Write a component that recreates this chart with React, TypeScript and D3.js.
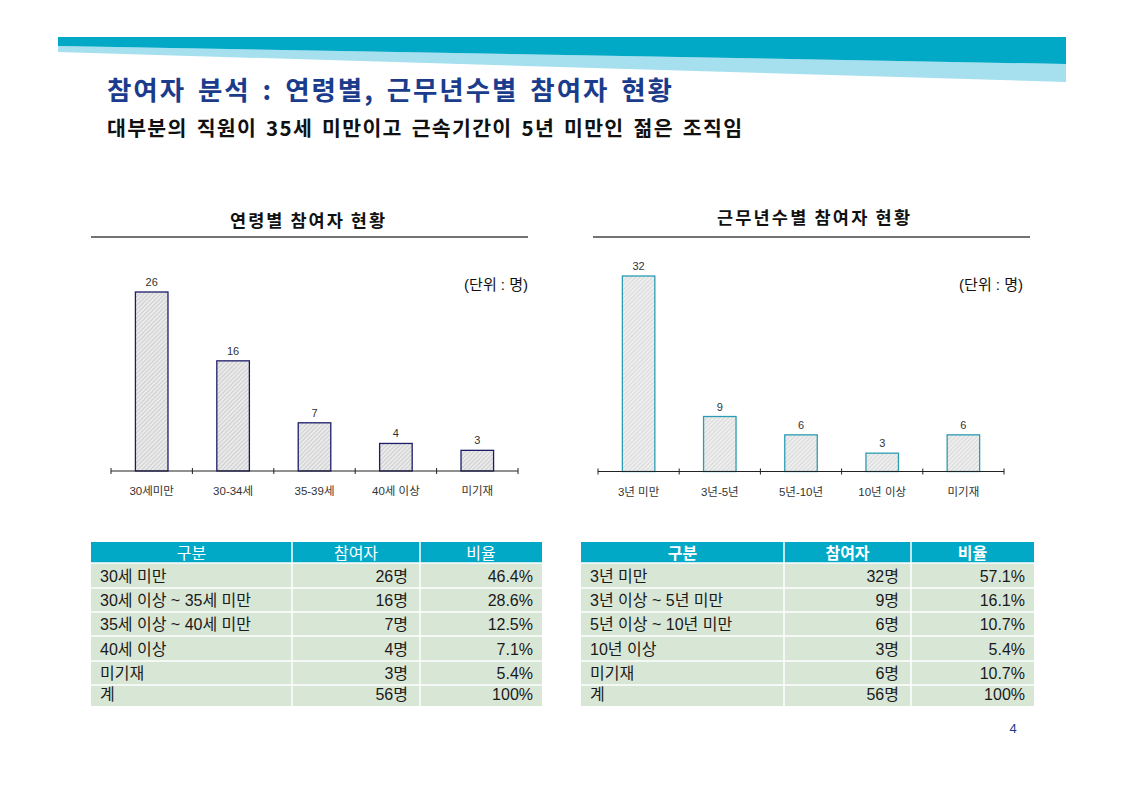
import React from "react";
import * as d3 from "d3";

const ageCategories = ["30세미만", "30-34세", "35-39세", "40세 이상", "미기재"];
const ageValues = [26, 16, 7, 4, 3];
const tenureCategories = ["3년 미만", "3년-5년", "5년-10년", "10년 이상", "미기재"];
const tenureValues = [32, 9, 6, 3, 6];

const tableHeaders = ["구분", "참여자", "비율"];
const ageTableLabels = ["30세 미만", "30세 이상 ~ 35세 미만", "35세 이상 ~ 40세 미만", "40세 이상", "미기재", "계"];
const ageTableCounts = ["26명", "16명", "7명", "4명", "3명", "56명"];
const ageTablePcts = ["46.4%", "28.6%", "12.5%", "7.1%", "5.4%", "100%"];
const tenureTableLabels = ["3년 미만", "3년 이상 ~ 5년 미만", "5년 이상 ~ 10년 미만", "10년 이상", "미기재", "계"];
const tenureTableCounts = ["32명", "9명", "6명", "3명", "6명", "56명"];
const tenureTablePcts = ["57.1%", "16.1%", "10.7%", "5.4%", "10.7%", "100%"];

const FONT = "'Noto Sans CJK KR', 'Noto Sans', sans-serif";
const MIXED = "'Liberation Sans', 'Noto Sans CJK KR', sans-serif";
const TEAL = "#02A9C7";
const LIGHT_TEAL = "#A6E0EE";

type ChartProps = {
  cats: string[];
  vals: number[];
  x0: number;
  x1: number;
  axisY: number;
  topY: number;
  stroke: string;
  pattern: string;
  unitX: number;
  unitY: number;
};

function BarChart({ cats, vals, x0, x1, axisY, topY, stroke, pattern, unitX, unitY }: ChartProps) {
  const x = d3.scaleBand<string>().domain(cats).range([x0, x1]).paddingInner(0.6).paddingOuter(0.3);
  const y = d3.scaleLinear().domain([0, d3.max(vals) as number]).range([axisY, topY]);
  const step = x.step();
  const tickXs = d3.range(cats.length + 1).map((i) => x0 + i * step);
  return (
    <g>
      {cats.map((c, i) => (
        <g key={c}>
          <rect
            x={x(c)}
            y={y(vals[i])}
            width={x.bandwidth()}
            height={axisY - y(vals[i])}
            fill={`url(#${pattern})`}
            stroke={stroke}
            strokeWidth={1.3}
          />
          <text
            x={(x(c) as number) + x.bandwidth() / 2}
            y={y(vals[i]) - 6}
            textAnchor="middle"
            fontSize={11}
            fill="#333"
            fontFamily={MIXED}
          >
            {vals[i]}
          </text>
          <text
            x={(x(c) as number) + x.bandwidth() / 2}
            y={axisY + 24}
            textAnchor="middle"
            fontSize={11.5}
            fill="#333"
            fontFamily={MIXED}
          >
            {c}
          </text>
        </g>
      ))}
      <line x1={x0} x2={x1} y1={axisY} y2={axisY} stroke="#222" strokeWidth={1.2} />
      {tickXs.map((tx, i) => (
        <line key={i} x1={tx} x2={tx} y1={axisY - 3} y2={axisY + 3} stroke="#222" strokeWidth={1} />
      ))}
      <text x={unitX} y={unitY} textAnchor="end" fontSize={15} fill="#111" fontFamily={MIXED}>
        (단위 : 명)
      </text>
    </g>
  );
}

type TableProps = {
  cols: number[];
  labels: string[];
  counts: string[];
  pcts: string[];
  boldHeader: boolean;
};

const headerTop = 542;
const headerBottom = 563;
const rowBounds = [563, 588, 612, 636, 661, 685, 706];

function DataTable({ cols, labels, counts, pcts, boldHeader }: TableProps) {
  const [c0, c1, c2, c3] = cols;
  return (
    <g fontFamily={MIXED}>
      <rect x={c0} y={headerTop} width={c3 - c0} height={headerBottom - headerTop} fill={TEAL} />
      {labels.map((l, i) => (
        <rect
          key={l}
          x={c0}
          y={rowBounds[i]}
          width={c3 - c0}
          height={rowBounds[i + 1] - rowBounds[i]}
          fill="#D8E6D6"
        />
      ))}
      {rowBounds.slice(0, -1).map((ry, i) => (
        <line key={i} x1={c0} x2={c3} y1={ry} y2={ry} stroke="#fff" strokeWidth={1.5} />
      ))}
      {[c1, c2].map((cx, i) => (
        <line key={i} x1={cx} x2={cx} y1={headerTop} y2={rowBounds[rowBounds.length - 1]} stroke="#fff" strokeWidth={1.5} />
      ))}
      {tableHeaders.map((h, i) => (
        <text
          key={h}
          x={([c0, c1, c2][i] + [c1, c2, c3][i]) / 2}
          y={headerBottom - 4}
          textAnchor="middle"
          fontSize={16}
          fontWeight={boldHeader ? 700 : 400}
          fill="#fff"
        >
          {h}
        </text>
      ))}
      {labels.map((l, i) => {
        const base = rowBounds[i + 1] - 6;
        return (
          <g key={l} fontSize={16} fill="#1a1a1a">
            <text x={c0 + 9} y={base}>{l}</text>
            <text x={c2 - 12} y={base} textAnchor="end">{counts[i]}</text>
            <text x={c3 - 9} y={base} textAnchor="end">{pcts[i]}</text>
          </g>
        );
      })}
    </g>
  );
}

export default function App() {
  return (
    <svg
      width={1123}
      height={795}
      viewBox="0 0 1123 795"
      style={{ position: "absolute", left: 0, top: 0, background: "#fff" }}
    >
      <defs>
        <pattern id="hatchNavy" patternUnits="userSpaceOnUse" width={3} height={3} patternTransform="rotate(45)">
          <rect width={3} height={3} fill="#EAEAEA" />
          <line x1={0} y1={0} x2={0} y2={3} stroke="#B8B8B8" strokeWidth={1.1} />
        </pattern>
        <pattern id="hatchTeal" patternUnits="userSpaceOnUse" width={3} height={3} patternTransform="rotate(45)">
          <rect width={3} height={3} fill="#EEEEEE" />
          <line x1={0} y1={0} x2={0} y2={3} stroke="#C4C4C4" strokeWidth={1} />
        </pattern>
      </defs>
      <rect width={1123} height={795} fill="#fff" />

      {/* banner */}
      <polygon points="58,46 1066,64 1066,82 58,52" fill={LIGHT_TEAL} />
      <polygon points="58,37 1066,37 1066,64 58,46" fill={TEAL} />

      <text
        x={107}
        y={100}
        fontFamily={FONT}
        fontSize={26.5}
        fontWeight={700}
        fill="#1B3C8C"
        wordSpacing={4}
        textLength={565}
        lengthAdjust="spacing"
      >
        참여자 분석 : 연령별, 근무년수별 참여자 현황
      </text>
      <text
        x={107}
        y={136}
        fontFamily={FONT}
        fontSize={20.5}
        fontWeight={700}
        fill="#111"
        wordSpacing={3}
        textLength={635}
        lengthAdjust="spacing"
      >
        대부분의 직원이 35세 미만이고 근속기간이 5년 미만인 젊은 조직임
      </text>

      {/* chart titles */}
      <text
        x={230}
        y={227}
        fontFamily={FONT}
        fontSize={17.5}
        fontWeight={700}
        fill="#111"
        textLength={155}
        lengthAdjust="spacing"
      >
        연령별 참여자 현황
      </text>
      <line x1={91} x2={528} y1={237} y2={237} stroke="#444" strokeWidth={1.3} />
      <text
        x={717}
        y={224}
        fontFamily={FONT}
        fontSize={17.5}
        fontWeight={700}
        fill="#111"
        textLength={193}
        lengthAdjust="spacing"
      >
        근무년수별 참여자 현황
      </text>
      <line x1={593} x2={1030} y1={237} y2={237} stroke="#444" strokeWidth={1.3} />

      <BarChart
        cats={ageCategories}
        vals={ageValues}
        x0={111}
        x1={518}
        axisY={471}
        topY={292}
        stroke="#1C1C6A"
        pattern="hatchNavy"
        unitX={528}
        unitY={290}
      />
      <BarChart
        cats={tenureCategories}
        vals={tenureValues}
        x0={598}
        x1={1004}
        axisY={471.5}
        topY={276}
        stroke="#2A9DB3"
        pattern="hatchTeal"
        unitX={1023}
        unitY={290}
      />

      <DataTable
        cols={[91, 292, 420, 542]}
        labels={ageTableLabels}
        counts={ageTableCounts}
        pcts={ageTablePcts}
        boldHeader={false}
      />
      <DataTable
        cols={[581, 784, 911, 1034]}
        labels={tenureTableLabels}
        counts={tenureTableCounts}
        pcts={tenureTablePcts}
        boldHeader={true}
      />

      <text x={1013} y={733} textAnchor="middle" fontFamily={MIXED} fontSize={13} fill="#1B3C8C">
        4
      </text>
    </svg>
  );
}
